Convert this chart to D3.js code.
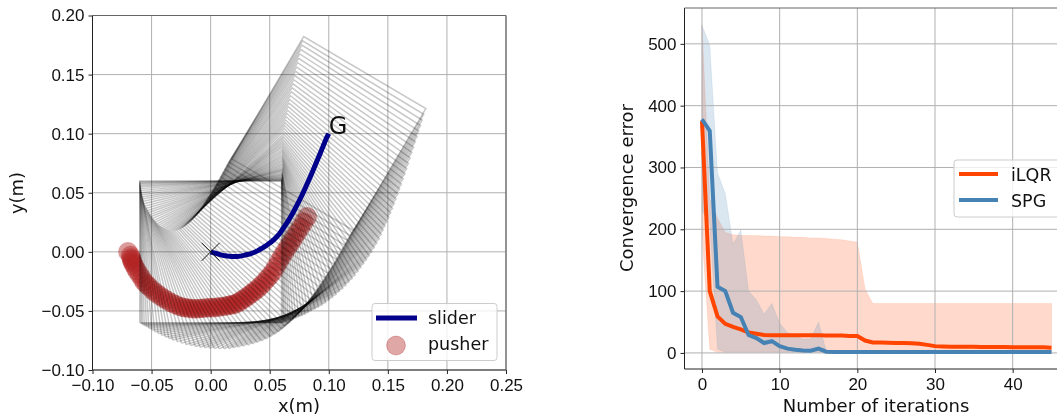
<!DOCTYPE html>
<html>
<head>
<meta charset="utf-8">
<script src="https://d3js.org/d3.v7.min.js"></script>
<style>
  html, body { margin: 0; padding: 0; background: #fff; overflow: hidden; }
  svg { display: block; font-family: "DejaVu Sans", sans-serif; filter: blur(0.35px); }
  .tick text { font-size: 17px; fill: #111; }
  .label { font-size: 18px; fill: #111; }
  .legend { font-size: 17.5px; fill: #111; }
</style>
</head>
<body>
<svg width="1057" height="415"></svg>
<script>
// slider pose per frame
var sliderX = [0, .0006, .0012, .002, .003, .004, .0052, .0065, .008, .0095, .011, .0125, .014, .016, .018, .02, .022, .024, .026, .028, .03,
  .032, .034, .036, .038, .04, .042, .044, .046, .048, .05, .052, .054, .056, .058, .0596, .0612, .0628, .0644, .066, .0676, .0692, .0708, .0724,
  .074, .0756, .0772, .0788, .0804, .082, .0836, .0852, .0868, .0884, .09, .0916, .0932, .0948, .0964, .098, .1];
var sliderY = [0, -.0002, -.0004, -.0006, -.0009, -.0012, -.0016, -.002, -.0024, -.0028, -.0031, -.0033, -.0035, -.0037, -.0039, -.004, -.0039, -.0037, -.0034, -.003, -.0025,
  -.0021, -.0015, -.0008, 0, .001, .0022, .0034, .0047, .006, .0075, .009, .0108, .0128, .015, .0172, .0195, .0219, .0243, .0268, .0295, .0323, .0352, .0382,
  .0413, .0445, .0478, .0512, .0547, .0582, .0618, .0655, .0692, .073, .0768, .0806, .0845, .0884, .0923, .0962, .1];
var sliderDeg = [0, .5, 1, 1.7, 2.5, 3.4, 4.5, 5.6, 6.8, 8, 9.3, 10.6, 12, 13.4, 14.8, 16.2, 17.7, 19.2, 20.7, 22.2, 23.7,
  25.2, 26.7, 28.2, 29.6, 31, 32.4, 33.8, 35.2, 36.5, 37.8, 39, 40.2, 41.3, 42.4, 43.4, 44.3, 45.1, 45.9, 46.7, 47.4, 48.1, 48.8, 49.5,
  50.2, 50.9, 51.5, 52.1, 52.7, 53.3, 53.9, 54.5, 55.1, 55.6, 56.1, 56.6, 57.1, 57.6, 58.1, 58.8, 59.5];
var sliderHalf = 0.06;

// pusher centre per frame
var pusherX = [-.07, -.0678, -.0672, -.0668, -.0662, -.0652, -.064, -.0624, -.0603, -.0582, -.0563, -.0542, -.052, -.049, -.0462, -.0431, -.04, -.0369, -.0337, -.0304, -.0271,
  -.0241, -.0213, -.0184, -.0155, -.0127, -.0097, -.0069, -.004, -.001, .0019, .0048, .0078, .0107, .0137, .0162, .0188, .0214, .024, .0266, .0292, .0318, .0344, .037,
  .0397, .0424, .045, .0476, .0502, .0528, .0553, .0578, .0603, .0628, .0654, .068, .0706, .0733, .076, .0788, .0817];
var pusherY = [0, -.0032, -.0052, -.0068, -.0086, -.0106, -.0131, -.016, -.0191, -.0222, -.0253, -.0276, -.0297, -.0325, -.0348, -.0371, -.0392, -.041, -.0429, -.0445, -.0459,
  -.0468, -.0473, -.0477, -.0481, -.0482, -.048, -.0478, -.0475, -.0472, -.0472, -.047, -.0466, -.0462, -.0457, -.0451, -.0447, -.0439, -.0425, -.0408, -.0391, -.0373, -.0354, -.0334,
  -.0312, -.0287, -.026, -.0231, -.0201, -.0168, -.0125, -.0082, -.0038, .0002, .0042, .008, .0121, .0163, .0205, .025, .0296];

var leftXTicks = [-0.10, -0.05, 0, 0.05, 0.10, 0.15, 0.20, 0.25];
var leftYTicks = [-0.10, -0.05, 0, 0.05, 0.10, 0.15, 0.20];

// convergence curves, index = iteration
var ilqrMean = [375, 100, 59, 47, 42, 38, 33, 31, 29, 28.5, 28.5, 28.5, 28.5, 28.5, 28.5, 28.5, 28, 28, 28, 27.5, 27.5, 20, 17, 17, 16.5, 16, 16, 15.5, 15, 13, 11, 10.5, 10, 10, 10, 10, 9.5, 9.5, 9.5, 9.5, 9, 9, 9, 9, 9, 8.5];
var ilqrHigh = [530, 250, 218, 195, 191, 190, 190, 190, 189, 189, 188, 188, 187, 187, 186, 186, 185, 184, 183, 181, 179, 103, 80, 80, 80, 80, 80, 80, 80, 80, 80, 80, 80, 80, 80, 80, 80, 80, 80, 80, 80, 80, 80, 80, 80, 80];
var ilqrLow = [194, 6, 1, 1, 1, 1, 1, 1, 1, 1, 1, 1, 1, 1, 1, 1, 1, 1, 1, 1, 1, 1, 1, 1, 1, 1, 1, 1, 1, 1, 1, 1, 1, 1, 1, 1, 1, 1, 1, 1, 1, 1, 1, 1, 1, 1];
var spgMean = [378, 359, 107, 100, 65, 58, 29, 24, 16, 19, 11, 7, 5, 4, 3.5, 7, 2, 1.5, 1.5, 1.5, 1.5, 1.5, 1.5, 1.5, 1.5, 1.5, 1.5, 1.5, 1.5, 1.5, 1.5, 1.5, 1.5, 1.5, 1.5, 1.5, 1.5, 1.5, 1.5, 1.5, 1.5, 1.5, 1.5, 1.5, 1.5, 1.5];
var spgHigh = [530, 498, 291, 258, 176, 199, 100, 86, 63, 80, 48, 33, 28, 22, 23, 50, 3, 2, 2, 2, 2, 2, 2, 2, 2, 2, 2, 2, 2, 2, 2, 2, 2, 2, 2, 2, 2, 2, 2, 2, 2, 2, 2, 2, 2, 2];
var spgLow = [230, 210, 6, 1, 1, 1, 1, 1, 1, 1, 1, 1, 1, 1, 1, 1, 1, 1, 1, 1, 1, 1, 1, 1, 1, 1, 1, 1, 1, 1, 1, 1, 1, 1, 1, 1, 1, 1, 1, 1, 1, 1, 1, 1, 1, 1];
var iterTicks = [0, 10, 20, 30, 40];
var errorTicks = [0, 100, 200, 300, 400, 500];

var svg = d3.select("svg");

function drawFrame(g, left, right, top, bottom, xAxis, yAxis) {
  g.append("g").attr("transform", "translate(0," + bottom + ")").call(xAxis);
  g.append("g").attr("transform", "translate(" + left + ",0)").call(yAxis);
  g.selectAll(".domain").remove();
  g.selectAll(".tick line").attr("stroke", "#222").attr("stroke-width", 1);
  // spines
  g.append("line").attr("x1", left).attr("x2", left).attr("y1", top).attr("y2", bottom).attr("stroke", "#222").attr("stroke-width", 1);
  g.append("line").attr("x1", left).attr("x2", right).attr("y1", bottom).attr("y2", bottom).attr("stroke", "#222").attr("stroke-width", 1);
  g.append("line").attr("x1", left).attr("x2", right).attr("y1", top).attr("y2", top).attr("stroke", "#666").attr("stroke-width", 1.2);
  g.append("line").attr("x1", right).attr("x2", right).attr("y1", top).attr("y2", bottom).attr("stroke", "#666").attr("stroke-width", 1.2);
}

function drawGrid(g, xs, ys, xTicks, yTicks) {
  var xr = xs.range(), yr = ys.range();
  g.selectAll(".gx").data(xTicks).enter().append("line")
    .attr("x1", xs).attr("x2", xs).attr("y1", yr[0]).attr("y2", yr[1])
    .attr("stroke", "#b0b0b0").attr("stroke-width", 1);
  g.selectAll(".gy").data(yTicks).enter().append("line")
    .attr("y1", ys).attr("y2", ys).attr("x1", xr[0]).attr("x2", xr[1])
    .attr("stroke", "#b0b0b0").attr("stroke-width", 1);
}

// ---- left panel: planar pushing trajectory
var xLeft = d3.scaleLinear().domain([-0.10, 0.25]).range([92.5, 506]);
var yLeft = d3.scaleLinear().domain([-0.10, 0.20]).range([370, 15.5]);
var leftG = svg.append("g");

drawGrid(leftG, xLeft, yLeft, leftXTicks, leftYTicks);

// pusher goes under the boxes so the hatching shows through it
leftG.selectAll(".pusher").data(pusherX).enter().append("circle")
  .attr("cx", function (d) { return xLeft(d); })
  .attr("cy", function (d, i) { return yLeft(pusherY[i]); })
  .attr("r", 9.8)
  .attr("fill", "#b22222").attr("fill-opacity", 0.45);

var rectLine = d3.line().x(function (d) { return xLeft(d[0]); }).y(function (d) { return yLeft(d[1]); });
var corners = [[-1, -1], [1, -1], [1, 1], [-1, 1], [-1, -1]];

leftG.selectAll(".slider-box").data(sliderX).enter().append("path")
  .attr("d", function (cx, i) {
    var a = sliderDeg[i] * Math.PI / 180;
    var c = Math.cos(a), s = Math.sin(a);
    return rectLine(corners.map(function (p) {
      var u = p[0] * sliderHalf, v = p[1] * sliderHalf;
      return [cx + c * u - s * v, sliderY[i] + s * u + c * v];
    }));
  })
  .attr("fill", "none").attr("stroke", "#000").attr("stroke-opacity", 0.22).attr("stroke-width", 1.5);

leftG.append("path")
  .attr("d", d3.line().x(function (d) { return xLeft(d); }).y(function (d, i) { return yLeft(sliderY[i]); })(sliderX))
  .attr("fill", "none").attr("stroke", "#00008b").attr("stroke-width", 5);

// start marker and goal
var markX = xLeft(0), markY = yLeft(0);
leftG.append("path")
  .attr("d", "M" + (markX - 9) + "," + (markY - 9) + "L" + (markX + 9) + "," + (markY + 9) +
    "M" + (markX - 9) + "," + (markY + 9) + "L" + (markX + 9) + "," + (markY - 9))
  .attr("stroke", "#111").attr("stroke-width", 1).attr("fill", "none");
leftG.append("text").attr("x", xLeft(0.1)).attr("y", yLeft(0.1)).attr("font-size", 24).attr("fill", "#111").text("G");

drawFrame(leftG, 92.5, 506, 15.5, 370,
  d3.axisBottom(xLeft).tickValues(leftXTicks).tickFormat(d3.format(".2f")).tickSize(4).tickPadding(5),
  d3.axisLeft(yLeft).tickValues(leftYTicks).tickFormat(d3.format(".2f")).tickSize(4).tickPadding(4));

leftG.append("text").attr("class", "label").attr("x", 299).attr("y", 412).attr("text-anchor", "middle").text("x(m)");
leftG.append("text").attr("class", "label").attr("transform", "translate(23,193) rotate(-90)").attr("text-anchor", "middle").text("y(m)");

// legend
leftG.append("rect").attr("x", 372).attr("y", 303.5).attr("width", 125).attr("height", 57).attr("rx", 3)
  .attr("fill", "#fff").attr("fill-opacity", 0.8).attr("stroke", "#ccc");
leftG.append("line").attr("x1", 376).attr("x2", 417).attr("y1", 318).attr("y2", 318).attr("stroke", "#00008b").attr("stroke-width", 5);
leftG.append("circle").attr("cx", 396).attr("cy", 345.5).attr("r", 9.4)
  .attr("fill", "#b22222").attr("fill-opacity", 0.4).attr("stroke", "#b22222").attr("stroke-opacity", 0.3);
leftG.append("text").attr("class", "legend").attr("x", 428).attr("y", 324).text("slider");
leftG.append("text").attr("class", "legend").attr("x", 428).attr("y", 349.5).text("pusher");

// ---- right panel: convergence error
var xRight = d3.scaleLinear().domain([-2.25, 47.25]).range([684.5, 1069]);
var yRight = d3.scaleLinear().domain([-26, 558]).range([369, 8]);
var rightG = svg.append("g");

function band(high, low, color) {
  rightG.append("path")
    .attr("d", d3.area()
      .x(function (d, i) { return xRight(i); })
      .y0(function (d, i) { return yRight(low[i]); })
      .y1(function (d) { return yRight(d); })(high))
    .attr("fill", color).attr("fill-opacity", 0.2).attr("stroke", color).attr("stroke-opacity", 0.1);
}
function curve(values, color) {
  rightG.append("path")
    .attr("d", d3.line().x(function (d, i) { return xRight(i); }).y(function (d) { return yRight(d); })(values))
    .attr("fill", "none").attr("stroke", color).attr("stroke-width", 4);
}

band(ilqrHigh, ilqrLow, "#ff4500");
band(spgHigh, spgLow, "#4682b4");
drawGrid(rightG, xRight, yRight, iterTicks, errorTicks);
curve(ilqrMean, "#ff4500");
curve(spgMean, "#4682b4");

drawFrame(rightG, 684.5, 1069, 8, 369,
  d3.axisBottom(xRight).tickValues(iterTicks).tickSize(4).tickPadding(5),
  d3.axisLeft(yRight).tickValues(errorTicks).tickSize(4).tickPadding(4));

rightG.append("text").attr("class", "label").attr("x", 876).attr("y", 412).attr("text-anchor", "middle").text("Number of iterations");
rightG.append("text").attr("class", "label").attr("transform", "translate(633,188) rotate(-90)").attr("text-anchor", "middle").text("Convergence error");

rightG.append("rect").attr("x", 954).attr("y", 160).attr("width", 120).attr("height", 57).attr("rx", 3)
  .attr("fill", "#fff").attr("fill-opacity", 0.8).attr("stroke", "#ccc");
rightG.append("line").attr("x1", 959).attr("x2", 998).attr("y1", 174).attr("y2", 174).attr("stroke", "#ff4500").attr("stroke-width", 4);
rightG.append("line").attr("x1", 959).attr("x2", 998).attr("y1", 200).attr("y2", 200).attr("stroke", "#4682b4").attr("stroke-width", 4);
rightG.append("text").attr("class", "legend").attr("x", 1011).attr("y", 180.5).text("iLQR");
rightG.append("text").attr("class", "legend").attr("x", 1011).attr("y", 206.5).text("SPG");
</script>
</body>
</html>
